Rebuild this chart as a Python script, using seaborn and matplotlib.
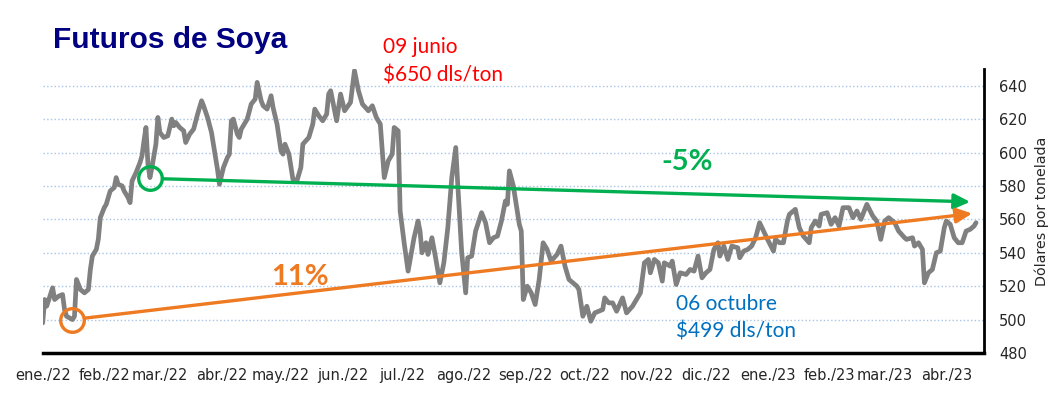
import seaborn as sns
import matplotlib.pyplot as plt
import pandas as pd

# Precio futuros de soya (dls/ton)
fechas = [
    '2022-01-01', '2022-01-02', '2022-01-03', '2022-01-06', '2022-01-07', '2022-01-09', '2022-01-11', '2022-01-12', '2022-01-13', '2022-01-16',
    '2022-01-17', '2022-01-18', '2022-01-20', '2022-01-22', '2022-01-24', '2022-01-25', '2022-01-26', '2022-01-28', '2022-01-29', '2022-01-30',
    '2022-02-01', '2022-02-02', '2022-02-04', '2022-02-06', '2022-02-07', '2022-02-08', '2022-02-10', '2022-02-11', '2022-02-13', '2022-02-14',
    '2022-02-15', '2022-02-17', '2022-02-19', '2022-02-20', '2022-02-21', '2022-02-22', '2022-02-23', '2022-02-24', '2022-02-25', '2022-02-27', '2022-02-28',
    '2022-03-01', '2022-03-03', '2022-03-05', '2022-03-07', '2022-03-08', '2022-03-09', '2022-03-11', '2022-03-13', '2022-03-14', '2022-03-16',
    '2022-03-18', '2022-03-20', '2022-03-22', '2022-03-23', '2022-03-25', '2022-03-27', '2022-03-30', '2022-03-31',
    '2022-04-02', '2022-04-04', '2022-04-05', '2022-04-06', '2022-04-07', '2022-04-09', '2022-04-10', '2022-04-11', '2022-04-14', '2022-04-16',
    '2022-04-18', '2022-04-19', '2022-04-21', '2022-04-22', '2022-04-24', '2022-04-26', '2022-04-27', '2022-04-29',
    '2022-05-01', '2022-05-02', '2022-05-03', '2022-05-05', '2022-05-07', '2022-05-09', '2022-05-11', '2022-05-12', '2022-05-15', '2022-05-17',
    '2022-05-18', '2022-05-20', '2022-05-22', '2022-05-24', '2022-05-25', '2022-05-26', '2022-05-28', '2022-05-29', '2022-05-31',
    '2022-06-02', '2022-06-05', '2022-06-07', '2022-06-09', '2022-06-11', '2022-06-14', '2022-06-16', '2022-06-18', '2022-06-20', '2022-06-22',
    '2022-06-24', '2022-06-26', '2022-06-27', '2022-06-29', '2022-06-30',
    '2022-07-02', '2022-07-04', '2022-07-07', '2022-07-09', '2022-07-10', '2022-07-11', '2022-07-13', '2022-07-14', '2022-07-16', '2022-07-18',
    '2022-07-20', '2022-07-22', '2022-07-24', '2022-07-26', '2022-07-28', '2022-07-29', '2022-07-31',
    '2022-08-02', '2022-08-03', '2022-08-05', '2022-08-07', '2022-08-10', '2022-08-12', '2022-08-14', '2022-08-16', '2022-08-18', '2022-08-20',
    '2022-08-22', '2022-08-23', '2022-08-24', '2022-08-26', '2022-08-29', '2022-08-30', '2022-08-31',
    '2022-09-02', '2022-09-04', '2022-09-06', '2022-09-08', '2022-09-10', '2022-09-12', '2022-09-14', '2022-09-17', '2022-09-19', '2022-09-21',
    '2022-09-23', '2022-09-27', '2022-09-28', '2022-09-30',
    '2022-10-02', '2022-10-04', '2022-10-06', '2022-10-10', '2022-10-11', '2022-10-13', '2022-10-15', '2022-10-17', '2022-10-20', '2022-10-22',
    '2022-10-25', '2022-10-29', '2022-10-31',
    '2022-11-02', '2022-11-03', '2022-11-05', '2022-11-07', '2022-11-09', '2022-11-10', '2022-11-13', '2022-11-14', '2022-11-16', '2022-11-18',
    '2022-11-21', '2022-11-23', '2022-11-25', '2022-11-27', '2022-11-29',
    '2022-12-01', '2022-12-03', '2022-12-05', '2022-12-07', '2022-12-08', '2022-12-10', '2022-12-12', '2022-12-14', '2022-12-17', '2022-12-18',
    '2022-12-20', '2022-12-22', '2022-12-24', '2022-12-26', '2022-12-28', '2022-12-30',
    '2023-01-01', '2023-01-04', '2023-01-05', '2023-01-07', '2023-01-09', '2023-01-11', '2023-01-12', '2023-01-15', '2023-01-17', '2023-01-19',
    '2023-01-22', '2023-01-23', '2023-01-25', '2023-01-27', '2023-01-28', '2023-01-31',
    '2023-02-02', '2023-02-04', '2023-02-06', '2023-02-08', '2023-02-11', '2023-02-13', '2023-02-15', '2023-02-17', '2023-02-20', '2023-02-23',
    '2023-02-25', '2023-02-27',
    '2023-03-01', '2023-03-03', '2023-03-06', '2023-03-08', '2023-03-11', '2023-03-12', '2023-03-15', '2023-03-16', '2023-03-18', '2023-03-20',
    '2023-03-21', '2023-03-23', '2023-03-25', '2023-03-27', '2023-03-29', '2023-03-31',
    '2023-04-01', '2023-04-03', '2023-04-05', '2023-04-07', '2023-04-09', '2023-04-11', '2023-04-13', '2023-04-15', '2023-04-16',
]
precios = [
    498, 512, 508, 519, 512, 514, 515, 506, 502, 500,
    502, 524, 518, 516, 518, 530, 538, 542, 548, 561,
    567, 569, 577, 579, 585, 581, 580, 577, 573, 570,
    583, 588, 594, 598, 607, 615, 593, 585, 591, 605, 621,
    612, 609, 610, 620, 616, 618, 615, 613, 606, 611,
    614, 623, 631, 628, 621, 612, 590, 581,
    591, 597, 599, 619, 620, 611, 609, 614, 620, 629,
    632, 642, 631, 628, 626, 634, 627, 617,
    601, 599, 605, 599, 584, 583, 591, 605, 609, 617,
    626, 622, 619, 623, 635, 637, 625, 619, 635,
    625, 630, 649, 637, 629, 625, 628, 621, 617, 585,
    595, 599, 615, 613, 565,
    546, 529, 549, 559, 553, 540, 546, 539, 549, 536,
    522, 534, 555, 585, 603, 581, 540,
    516, 537, 538, 553, 564, 558, 546, 549, 550, 559,
    571, 569, 589, 580, 557, 553, 512,
    520, 516, 509, 524, 546, 542, 535, 539, 544, 532,
    524, 520, 518, 502,
    508, 499, 504, 506, 513, 510, 510, 505, 513, 504,
    508, 516, 534,
    536, 528, 536, 534, 523, 534, 532, 535, 521, 528,
    527, 530, 529, 538, 525,
    528, 530, 542, 546, 538, 544, 536, 544, 543, 537,
    541, 542, 544, 549, 558, 553,
    548, 541, 548, 546, 546, 559, 563, 566, 555, 550,
    546, 555, 559, 556, 563, 564,
    557, 561, 556, 567, 567, 561, 565, 560, 569, 562,
    559, 548,
    559, 561, 558, 553, 549, 548, 549, 544, 546, 542,
    522, 528, 530, 540, 541, 555,
    559, 557, 549, 546, 546, 553, 554, 556, 558,
]

meses = ['ene./22', 'feb./22', 'mar./22', 'abr./22', 'may./22', 'jun./22', 'jul./22', 'ago./22',
         'sep./22', 'oct./22', 'nov./22', 'dic./22', 'ene./23', 'feb./23', 'mar./23', 'abr./23']

# Tendencias: (inicio, fin)
tend_baja_fechas = ['2022-02-24', '2023-04-13']
tend_baja_valores = [584.5, 570.5]
tend_alza_fechas = ['2022-01-16', '2023-04-14']
tend_alza_valores = [500, 563.5]

GRIS = '#808080'
VERDE = '#00B050'
NARANJA = '#EE7A22'

sns.set_theme(style='white')
plt.rcParams['font.family'] = ['DejaVu Sans']

df = pd.DataFrame({'fecha': pd.to_datetime(fechas), 'precio': precios})

fig = plt.figure(figsize=(10.54, 3.99), dpi=100)
ax = fig.add_axes([42.7 / 1054, 1 - 353 / 399, (984 - 42.7) / 1054, (353 - 69) / 399])

sns.lineplot(data=df, x='fecha', y='precio', color=GRIS, linewidth=3.4, ax=ax, zorder=3)
ax.lines[0].set_solid_joinstyle('round')

# Flechas de tendencia
for f, v, c in [(tend_baja_fechas, tend_baja_valores, VERDE), (tend_alza_fechas, tend_alza_valores, NARANJA)]:
    f = pd.to_datetime(f)
    ax.annotate('', xy=(f[1], v[1]), xytext=(f[0], v[0]),
                arrowprops=dict(arrowstyle='-|>,head_length=0.8,head_width=0.38', color=c, lw=2.4,
                                shrinkA=9, shrinkB=0, mutation_scale=12), zorder=4)
    ax.plot(f[0], v[0], marker='o', ms=17, mfc='none', mec=c, mew=2.4, zorder=5)

ax.set_xlim(pd.Timestamp('2022-01-01'), pd.Timestamp('2023-04-20'))
ax.set_ylim(480, 650)
ax.set_xticks(pd.date_range('2022-01-01', '2023-04-01', freq='MS'))
ax.set_xticklabels(meses, fontsize=10.5)
ax.set_yticks(range(480, 641, 20))
ax.yaxis.tick_right()
ax.yaxis.set_label_position('right')
ax.tick_params(axis='y', length=0, pad=11, labelsize=10.5)
ax.tick_params(axis='x', direction='in', length=6, width=2, color='black', pad=11)
ax.set_xlabel('')
ax.set_ylabel('Dólares por tonelada', fontsize=10.3, labelpad=5)

ax.grid(axis='y', color='#A8C4E6', linestyle=':', linewidth=1)
ax.grid(axis='x', visible=False)
for s in ['left', 'top']:
    ax.spines[s].set_visible(False)
ax.spines['bottom'].set_color('black')
ax.spines['bottom'].set_linewidth(2.5)
ax.spines['right'].set_color('black')
ax.spines['right'].set_linewidth(2)

# Textos
fig.text(53 / 1054, 1 - 48 / 399, 'Futuros de Soya', fontsize=21.5, fontweight='bold',
         color='#000080', family='Liberation Sans', va='baseline')
fig.text(383 / 1054, 1 - 53 / 399, '09 junio', fontsize=15, color='#FF0000', family='Lato', va='baseline')
fig.text(383 / 1054, 1 - 81 / 399, '$650 dls/ton', fontsize=15, color='#FF0000', family='Lato', va='baseline')
fig.text(676 / 1054, 1 - 310 / 399, '06 octubre', fontsize=15, color='#0070C0', family='Lato', va='baseline')
fig.text(676 / 1054, 1 - 337 / 399, '$499 dls/ton', fontsize=15, color='#0070C0', family='Lato', va='baseline')
fig.text(661 / 1054, 1 - 170 / 399, '-5%', fontsize=21, fontweight='bold', color=VERDE, family='Lato', va='baseline')
fig.text(271 / 1054, 1 - 285 / 399, '11%', fontsize=21, fontweight='bold', color=NARANJA, family='Lato', va='baseline')

plt.savefig('out.png', dpi=100)
